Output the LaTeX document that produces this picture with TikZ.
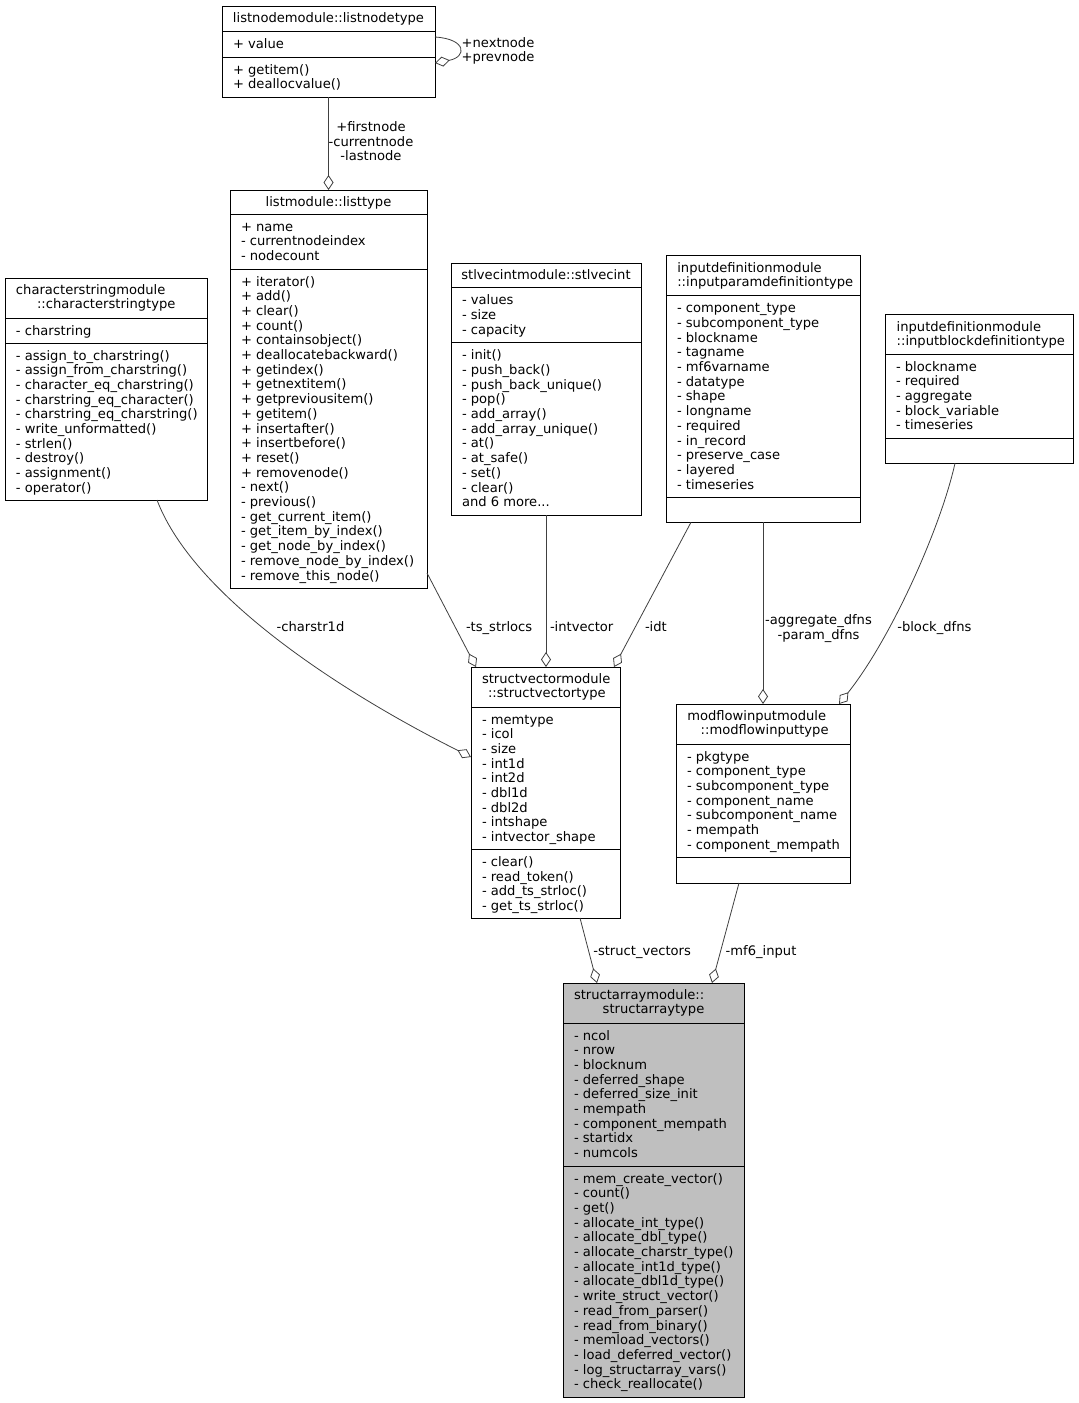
\documentclass[tikz,border=0pt]{standalone}
\usepackage{fontspec}
\setmainfont{DejaVu Sans}
\usetikzlibrary{arrows.meta,calc}
\definecolor{edgegray}{HTML}{404040}
\definecolor{boxgray}{HTML}{BFBFBF}
\newcommand\dfont{\fontsize{13.1}{14.7}\selectfont}
\newcommand\lst[1]{\begin{tabular}[t]{@{}l@{}}#1\end{tabular}}
\newcommand\clst[1]{\begin{tabular}[t]{@{}c@{}}#1\end{tabular}}
\begin{document}
\begin{tikzpicture}[x=1pt,y=-1pt,
  classbox/.style={draw=black, line width=0.9pt, inner sep=0pt, outer sep=0pt, fill=white},
  txt/.style={font=\dfont, inner sep=0pt, outer sep=0pt, anchor=base west},
  ltxt/.style={font=\dfont, inner sep=0pt, outer sep=0pt, anchor=base west, yshift=-1pt},
  ctxt/.style={font=\dfont, inner sep=0pt, outer sep=0pt, anchor=base},
  sepline/.style={line width=0.9pt},
  agg/.style={draw=edgegray, line width=0.8pt, -{Diamond[fill=white, length=15pt, width=10pt, line join=miter]}},
]
\fill[white] (0,0) rectangle (1079,1403);
\useasboundingbox (0,0) rectangle (1079,1403);

% ---------- listnodetype
\node[classbox, minimum width=213, minimum height=91] (lnt) at (328.5,51.5) {};
\draw[sepline] (222,31) -- (435,31);
\draw[sepline] (222,57) -- (435,57);
\node[ctxt] (lnt-t) at (328.5,22) {listnodemodule::listnodetype};
\node[ltxt] (lnt-a) at (233,47) {\lst{+ value}};
\node[ltxt] (lnt-m) at (233,73) {\lst{+ getitem()\\+ deallocvalue()}};

% ---------- listtype
\node[classbox, minimum width=197, minimum height=398] (lt) at (328.5,389) {};
\draw[sepline] (230,214) -- (427,214);
\draw[sepline] (230,269) -- (427,269);
\node[ctxt] (lt-t) at (328.5,206) {listmodule::listtype};
\node[ltxt] (lt-a) at (241,230) {\lst{+ name\\- currentnodeindex\\- nodecount}};
\node[ltxt] (lt-m) at (241,285) {\lst{+ iterator()\\+ add()\\+ clear()\\+ count()\\+ containsobject()\\+ deallocatebackward()\\+ getindex()\\+ getnextitem()\\+ getpreviousitem()\\+ getitem()\\+ insertafter()\\+ insertbefore()\\+ reset()\\+ removenode()\\- next()\\- previous()\\- get\_current\_item()\\- get\_item\_by\_index()\\- get\_node\_by\_index()\\- remove\_node\_by\_index()\\- remove\_this\_node()}};

% ---------- characterstringtype
\node[classbox, minimum width=202, minimum height=222] (cs) at (106,389) {};
\draw[sepline] (5,318) -- (207,318);
\draw[sepline] (5,343) -- (207,343);
\node[txt] (cs-t1) at (16,294) {characterstringmodule};
\node[txt] (cs-t2) at (37,308.7) {::characterstringtype};
\node[ltxt] (cs-a) at (16,334) {\lst{- charstring}};
\node[ltxt] (cs-m) at (16,359) {\lst{- assign\_to\_charstring()\\- assign\_from\_charstring()\\- character\_eq\_charstring()\\- charstring\_eq\_character()\\- charstring\_eq\_charstring()\\- write\_unformatted()\\- strlen()\\- destroy()\\- assignment()\\- operator()}};

% ---------- stlvecint
\node[classbox, minimum width=190, minimum height=252] (stl) at (546,389) {};
\draw[sepline] (451,287.7) -- (641,287.7);
\draw[sepline] (451,342.7) -- (641,342.7);
\node[ctxt] (stl-t) at (546,279.3) {stlvecintmodule::stlvecint};
\node[ltxt] (stl-a) at (462,303.7) {\lst{- values\\- size\\- capacity}};
\node[ltxt] (stl-m) at (462,358.7) {\lst{- init()\\- push\_back()\\- push\_back\_unique()\\- pop()\\- add\_array()\\- add\_array\_unique()\\- at()\\- at\_safe()\\- set()\\- clear()\\and 6 more...}};

% ---------- inputparamdefinitiontype
\node[classbox, minimum width=194, minimum height=266.5] (ipd) at (763,389) {};
\draw[sepline] (666,295.7) -- (860,295.7);
\draw[sepline] (666,497.3) -- (860,497.3);
\node[txt] (ipd-t1) at (677.3,272) {inputdefinitionmodule};
\node[txt] (ipd-t2) at (677.3,286.7) {::inputparamdefinitiontype};
\node[ltxt] (ipd-a) at (677,311.7) {\lst{- component\_type\\- subcomponent\_type\\- blockname\\- tagname\\- mf6varname\\- datatype\\- shape\\- longname\\- required\\- in\_record\\- preserve\_case\\- layered\\- timeseries}};

% ---------- inputblockdefinitiontype
\node[classbox, minimum width=188, minimum height=148.5] (ibd) at (979,389) {};
\draw[sepline] (885,354) -- (1073,354);
\draw[sepline] (885,438.3) -- (1073,438.3);
\node[txt] (ibd-t1) at (896.7,331) {inputdefinitionmodule};
\node[txt] (ibd-t2) at (896.7,345.7) {::inputblockdefinitiontype};
\node[ltxt] (ibd-a) at (896,370) {\lst{- blockname\\- required\\- aggregate\\- block\_variable\\- timeseries}};

% ---------- structvectortype
\node[classbox, minimum width=149, minimum height=251] (sv) at (545.5,792.5) {};
\draw[sepline] (471,707) -- (620,707);
\draw[sepline] (471,849.5) -- (620,849.5);
\node[txt] (sv-t1) at (482,683) {structvectormodule};
\node[txt] (sv-t2) at (488,697.7) {::structvectortype};
\node[ltxt] (sv-a) at (482,723) {\lst{- memtype\\- icol\\- size\\- int1d\\- int2d\\- dbl1d\\- dbl2d\\- intshape\\- intvector\_shape}};
\node[ltxt] (sv-m) at (482,865.5) {\lst{- clear()\\- read\_token()\\- add\_ts\_strloc()\\- get\_ts\_strloc()}};

% ---------- modflowinputtype
\node[classbox, minimum width=174, minimum height=179] (mfi) at (763,793.5) {};
\draw[sepline] (676,744) -- (850,744);
\draw[sepline] (676,857) -- (850,857);
\node[txt] (mfi-t1) at (687.3,720) {modflowinputmodule};
\node[txt] (mfi-t2) at (700.7,734.7) {::modflowinputtype};
\node[ltxt] (mfi-a) at (687,760) {\lst{- pkgtype\\- component\_type\\- subcomponent\_type\\- component\_name\\- subcomponent\_name\\- mempath\\- component\_mempath}};

% ---------- structarraytype
\node[classbox, fill=boxgray, minimum width=181, minimum height=414] (sa) at (653.5,1190) {};
\draw[sepline] (563,1023) -- (744,1023);
\draw[sepline] (563,1166) -- (744,1166);
\node[txt] (sa-t1) at (574,999) {structarraymodule::};
\node[txt] (sa-t2) at (602.7,1013.7) {structarraytype};
\node[ltxt] (sa-a) at (574,1039) {\lst{- ncol\\- nrow\\- blocknum\\- deferred\_shape\\- deferred\_size\_init\\- mempath\\- component\_mempath\\- startidx\\- numcols}};
\node[ltxt] (sa-m) at (574,1182) {\lst{- mem\_create\_vector()\\- count()\\- get()\\- allocate\_int\_type()\\- allocate\_dbl\_type()\\- allocate\_charstr\_type()\\- allocate\_int1d\_type()\\- allocate\_dbl1d\_type()\\- write\_struct\_vector()\\- read\_from\_parser()\\- read\_from\_binary()\\- memload\_vectors()\\- load\_deferred\_vector()\\- log\_structarray\_vars()\\- check\_reallocate()}};

% ---------- connectors
\draw[agg] ($(lnt.north east)+(0,31)$) .. controls +(32,2) and +(32,-6) .. ($(lnt.north east)+(0,57)$);
\node[ctxt] (l-next) at (498,47) {\clst{+nextnode\\+prevnode}};

\draw[agg] (lnt.south) -- (lt.north);
\node[ctxt] (l-first) at (371,131.5) {\clst{+firstnode\\-currentnode\\-lastnode}};

\draw[agg] ($(cs.south west)+(152,0)$) .. controls +(38,100) and +(-120,-60) .. ($(sv.north west)+(0,90)$);
\node[txt] (l-char) at (276.7,631) {-charstr1d};

\draw[agg] ($(lt.north east)+(0,383)$) -- ($(sv.north west)+(5,0)$);
\node[txt] (l-ts) at (466,631) {-ts\_strlocs};

\draw[agg] (stl.south) -- (stl.south |- sv.north);
\node[txt] (l-iv) at (550,631) {-intvector};

\draw[agg] ($(ipd.south west)+(25,0)$) -- ($(sv.north east)+(-6,0)$);
\node[txt] (l-idt) at (645,631) {-idt};

\draw[agg] (ipd.south) -- (mfi.north);
\node[ctxt] (l-agg) at (818.5,624.5) {\clst{-aggregate\_dfns\\-param\_dfns}};

\draw[agg] ($(ibd.south west)+(70,0)$) .. controls +(-15,67) and +(51,-64) .. ($(mfi.north east)+(-11,0)$);
\node[txt] (l-blk) at (897.3,631) {-block\_dfns};

\draw[agg] ($(sv.south west)+(109,0)$) -- ($(sa.north west)+(34,0)$);
\node[txt] (l-sv) at (593.3,955) {-struct\_vectors};

\draw[agg] ($(mfi.south west)+(63,0)$) -- ($(sa.north west)+(149,0)$);
\node[txt] (l-mf) at (725.7,955) {-mf6\_input};
\end{tikzpicture}
\end{document}
